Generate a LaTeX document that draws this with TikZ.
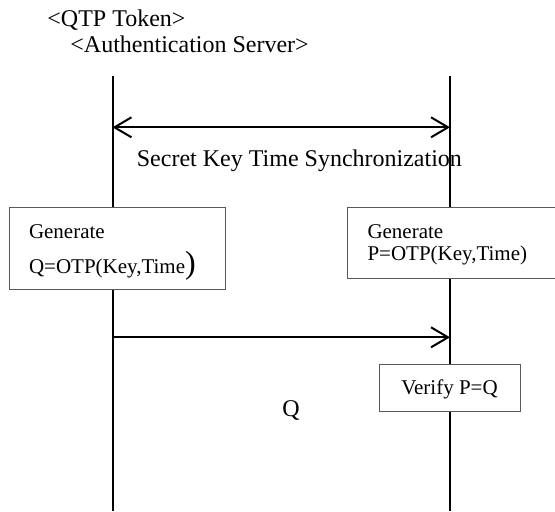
\documentclass[tikz,border=0pt]{standalone}
\usepackage{fontspec}
\setmainfont{Liberation Serif}
\usetikzlibrary{arrows.meta}

\begin{document}
\begin{tikzpicture}[x=0.5pt,y=-0.5pt,
  barb/.tip={Straight Barb[length=8.5pt,width=10pt]},
  life/.style={line width=1pt},
  msg/.style={line width=1pt,-barb},
  box/.style={rectangle,draw=black!65,line width=0.5pt,fill=white,inner sep=0pt},
  txt/.style={font=\fontsize{12}{14}\selectfont,inner sep=0pt}]
\useasboundingbox (0,0) rectangle (555,511);
\clip (0,0) rectangle (555,511);
\node [txt,anchor=base west] (tok) at (47,26) {<QTP Token>};
\node [txt,anchor=base west] (srv) at (70,52) {<Authentication Server>};
\coordinate (lt) at (112.5,76);
\coordinate (lb) at (112.5,511);
\coordinate (rt) at (450,76);
\coordinate (rb) at (450,511);
\draw [life] (lt) -- (lb);
\draw [life] (rt) -- (rb);
\coordinate (syncl) at (112.5,127.3);
\coordinate (syncr) at (450,127.3);
\draw [msg,barb-barb] (syncl) -- (syncr);
\node [txt,anchor=base west] (sync) at (136.5,166) {Secret Key Time Synchronization};
\node [box,anchor=north west,minimum width=108pt,minimum height=41pt,
  text width=88pt,inner xsep=10pt,align=left,
  font=\fontsize{10.5}{17.2}\selectfont] (genq) at (8.5,206.7)
  {\rule{0pt}{11pt}Generate\\Q=OTP(Key,Time{\fontsize{16}{17}\selectfont)}};
\node [box,anchor=north west,minimum width=112pt,minimum height=35.5pt,
  text width=92pt,inner xsep=10pt,align=left,
  font=\fontsize{10.5}{10.8}\selectfont] (genp) at (347,207)
  {\rule{0pt}{9pt}Generate\\P=OTP(Key,Time)};
\coordinate (ql) at (112.5,337.3);
\coordinate (qr) at (450,337.3);
\draw [msg] (ql) -- (qr);
\node [box,minimum width=70.5pt,minimum height=23.5pt,text depth=0pt,
  font=\fontsize{10.5}{12}\selectfont] (ver) at (449.5,387.5) {Verify P=Q};
\node [txt,anchor=base] (q) at (291,416.7) {Q};
\end{tikzpicture}
\end{document}
